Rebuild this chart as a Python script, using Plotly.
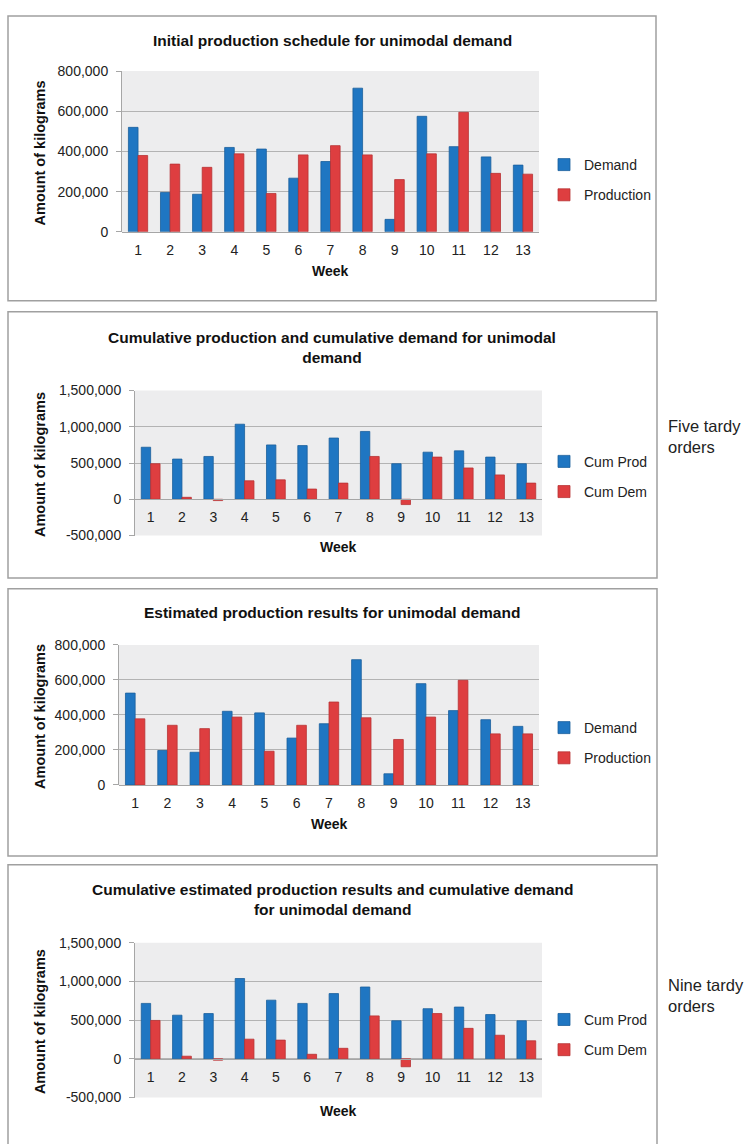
import plotly.graph_objects as go

W, H = 748, 1144
OFF = 0

weeks = [str(i) for i in range(1, 14)]

# Panel 1: Initial production schedule
p1_demand = [520000, 196000, 187000, 420000, 412000, 267000, 350000, 715000, 62000, 575000, 424000, 373000, 332000]
p1_production = [380000, 337000, 321000, 388000, 191000, 383000, 429000, 383000, 260000, 388000, 595000, 291000, 287000]

# Panel 2: Cumulative production and cumulative demand
p2_cum_prod = [718000, 555000, 591000, 1036000, 750000, 741000, 845000, 936000, 491000, 650000, 668000, 582000, 491000]
p2_cum_dem = [491000, 27000, -18000, 255000, 268000, 141000, 223000, 591000, -73000, 582000, 432000, 336000, 223000]

# Panel 3: Estimated production results
p3_demand = [525000, 197000, 187000, 421000, 412000, 268000, 350000, 716000, 64000, 579000, 425000, 373000, 335000]
p3_production = [378000, 341000, 322000, 388000, 193000, 341000, 474000, 384000, 260000, 388000, 598000, 292000, 292000]

# Panel 4: Cumulative estimated production results and cumulative demand
p4_cum_prod = [716000, 564000, 585000, 1038000, 758000, 716000, 843000, 928000, 492000, 648000, 669000, 572000, 492000]
p4_cum_dem = [496000, 34000, -17000, 254000, 242000, 59000, 136000, 555000, -102000, 585000, 394000, 305000, 233000]

ticks_pos = [0, 200000, 400000, 600000, 800000]
ticks_pos_labels = ["0", "200,000", "400,000", "600,000", "800,000"]
ticks_cum = [-500000, 0, 500000, 1000000, 1500000]
ticks_cum_labels = ["-500,000", "0", "500,000", "1,000,000", "1,500,000"]

titles = [
    "Initial production schedule for unimodal demand",
    "Cumulative production and cumulative demand for unimodal<br>demand",
    "Estimated production results for unimodal demand",
    "Cumulative estimated production results and cumulative demand<br>for unimodal demand",
]

BLUE = "#1f76c2"
BLUE_EDGE = "#1a5f9c"
RED = "#de3e40"
RED_EDGE = "#b83234"
FONT = "Liberation Sans, Arial, sans-serif"


def px(x):
    return (x - OFF) / W


def py(y):
    return 1 - (y - OFF) / H


fig = go.Figure()

panels = [
    dict(s=[p1_demand, p1_production], n=["Demand", "Production"], pb=(122, 539, 64, 227),
         rng=[0, 800000], tv=ticks_pos, tt=ticks_pos_labels, box=(8, 656, 8, 297),
         ty=[33], wy=267, ly=143, side=None),
    dict(s=[p2_cum_prod, p2_cum_dem], n=["Cum Prod", "Cum Dem"], pb=(135, 542, 388, 535),
         rng=[-500000, 1500000], tv=ticks_cum, tt=ticks_cum_labels, box=(8, 657, 308, 578),
         ty=[333, 355], wy=547, ly=444, side=("Five tardy", "orders", 423)),
    dict(s=[p3_demand, p3_production], n=["Demand", "Production"], pb=(119, 539, 646, 788),
         rng=[0, 800000], tv=ticks_pos, tt=ticks_pos_labels, box=(8, 657, 589, 860),
         ty=[613], wy=828, ly=714, side=None),
    dict(s=[p4_cum_prod, p4_cum_dem], n=["Cum Prod", "Cum Dem"], pb=(135, 542, 948, 1105),
         rng=[-500000, 1500000], tv=ticks_cum, tt=ticks_cum_labels, box=(8, 657, 869, 1160),
         ty=[894, 915], wy=1119, ly=1010, side=("Nine tardy", "orders", 990)),
]

shapes = []
annotations = []
layout_axes = {}

for i, p in enumerate(panels, start=1):
    xa = "x" if i == 1 else f"x{i}"
    ya = "y" if i == 1 else f"y{i}"
    lg = "legend" if i == 1 else f"legend{i}"
    x0, x1, yt, yb = p["pb"]
    for k, (vals, name) in enumerate(zip(p["s"], p["n"])):
        fig.add_trace(go.Bar(
            x=weeks, y=vals, name=name, xaxis=xa, yaxis=ya, legend=lg,
            legendgroup=f"{i}-{k}",
            marker=dict(color=BLUE if k == 0 else RED,
                        line=dict(color=BLUE_EDGE if k == 0 else RED_EDGE, width=0.8)),
        ))
    zero_y = yt + (yb - yt) * (p["rng"][1] - 0) / (p["rng"][1] - p["rng"][0])
    xkey = "xaxis" if i == 1 else f"xaxis{i}"
    ykey = "yaxis" if i == 1 else f"yaxis{i}"
    layout_axes[xkey] = dict(
        domain=[px(x0), px(x1)], anchor="free", position=py(zero_y),
        showgrid=False, showline=True, linecolor="#a6a6a6", linewidth=1,
        ticks="", tickfont=dict(family=FONT, size=14, color="#222"),
        type="category", fixedrange=True, ticklabelstandoff=5,
    )
    layout_axes[ykey] = dict(
        domain=[py(yb), py(yt)], anchor=xa, range=p["rng"],
        tickvals=p["tv"], ticktext=p["tt"], showgrid=True, gridcolor="#b3b3b3", gridwidth=1,
        zeroline=False, showline=True, linecolor="#a6a6a6", linewidth=1,
        ticks="outside", ticklen=5, tickcolor="#a6a6a6",
        tickfont=dict(family=FONT, size=14, color="#222"), fixedrange=True,
        ticklabelstandoff=5,
    )
    shapes.append(dict(type="rect", xref="paper", yref="paper", x0=px(x0), x1=px(x1),
                       y0=py(yb), y1=py(yt), fillcolor="#ededee", line=dict(width=0), layer="below"))
    bx0, bx1, by0, by1 = p["box"]
    shapes.append(dict(type="rect", xref="paper", yref="paper", x0=px(bx0), x1=px(bx1),
                       y0=py(by1), y1=py(by0), line=dict(color="#a0a0a0", width=1.5)))
    annotations.append(dict(text="<b>" + titles[i - 1] + "</b>", xref="paper", yref="paper",
                            x=px(332), y=py(sum(p["ty"]) / len(p["ty"])), xanchor="center", yanchor="middle",
                            showarrow=False, font=dict(family=FONT, size=15.5, color="#111")))
    annotations.append(dict(text="<b>Week</b>", xref="paper", yref="paper",
                            x=px((x0 + x1) / 2), y=py(p["wy"]), xanchor="center", yanchor="middle",
                            showarrow=False, font=dict(family=FONT, size=14, color="#111")))
    annotations.append(dict(text="<b>Amount of kilograms</b>", xref="paper", yref="paper",
                            x=px(40), y=py((yt + yb) / 2 + 2), xanchor="center", yanchor="middle",
                            textangle=-90, showarrow=False, font=dict(family=FONT, size=14.5, color="#111")))
    if p["side"]:
        a, b, sy = p["side"]
        annotations.append(dict(text=a + "<br>" + b, xref="paper", yref="paper",
                                x=px(666), y=py(sy + 12), xanchor="left", yanchor="middle", align="left",
                                showarrow=False, font=dict(family=FONT, size=16.5, color="#222")))
    layout_axes[lg] = dict(
        x=px(544), y=py(p["ly"]), xanchor="left", yanchor="top",
        bgcolor="rgba(0,0,0,0)", traceorder="grouped", tracegroupgap=9,
        font=dict(family=FONT, size=14, color="#222"), itemwidth=30,
    )

fig.update_layout(
    width=W, height=H, margin=dict(l=0, r=0, t=0, b=0),
    paper_bgcolor="white", plot_bgcolor="rgba(0,0,0,0)",
    barmode="group", bargap=0.4, bargroupgap=0.0,
    shapes=shapes, annotations=annotations, showlegend=True,
    **layout_axes,
)

fig.write_html("out.html", config={"displayModeBar": False},
               post_script="document.body.style.margin='0';")
